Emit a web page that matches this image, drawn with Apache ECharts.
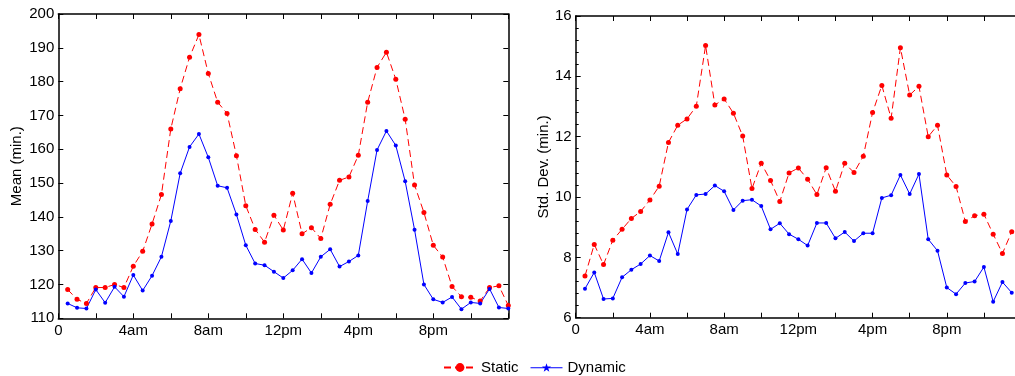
<!DOCTYPE html>
<html><head><meta charset="utf-8">
<script src="https://cdn.jsdelivr.net/npm/echarts@6/dist/echarts.min.js"></script>
<style>html,body{margin:0;padding:0;background:#fff}#c{width:1015px;height:376px}</style>
</head><body><div id="c"></div>
<script>
const hours = [0.5,1,1.5,2,2.5,3,3.5,4,4.5,5,5.5,6,6.5,7,7.5,8,8.5,9,9.5,10,10.5,11,11.5,12,
  12.5,13,13.5,14,14.5,15,15.5,16,16.5,17,17.5,18,18.5,19,19.5,20,20.5,21,21.5,22,22.5,23,23.5,24];
const xTickLabels = ['0','4am','8am','12pm','4pm','8pm'];
const meanStatic = [118.5,115.6,114.4,119.1,119.1,120.0,119.1,125.4,129.8,137.9,146.6,166.0,
  177.9,187.2,193.9,182.4,173.9,170.6,158.1,143.3,136.3,132.5,140.5,136.1,
  147.0,135.0,136.8,133.6,143.7,150.8,151.8,158.2,173.9,184.2,188.7,180.7,
  168.9,149.4,141.3,131.6,128.1,119.4,116.4,116.2,115.1,119.1,119.6,113.8];
const meanDynamic = [114.4,113.1,112.9,118.5,114.6,119.3,116.4,122.8,118.2,122.6,128.2,138.8,
  152.9,160.7,164.5,157.6,149.2,148.6,140.7,131.6,126.2,125.7,123.8,121.9,
  124.2,127.5,123.4,128.2,130.4,125.3,126.8,128.6,144.7,159.8,165.4,161.1,
  150.5,136.2,120.0,115.6,114.7,116.3,112.7,114.7,114.4,118.7,113.2,112.9];
const sdStatic = [7.38,8.43,7.76,8.57,8.93,9.29,9.52,9.90,10.36,11.81,12.38,12.59,
  13.01,15.02,13.05,13.25,12.78,12.02,10.28,11.12,10.55,9.85,10.80,10.96,
  10.59,10.08,10.97,10.19,11.12,10.81,11.35,12.80,13.70,12.61,14.95,13.38,
  13.67,12.00,12.38,10.73,10.35,9.19,9.38,9.43,8.77,8.13,8.85];
const sdDynamic = [6.96,7.50,6.62,6.64,7.34,7.59,7.78,8.06,7.88,8.83,8.11,9.59,
  10.07,10.10,10.38,10.19,9.57,9.88,9.91,9.70,8.93,9.13,8.77,8.60,
  8.39,9.14,9.14,8.63,8.84,8.54,8.80,8.80,9.97,10.06,10.73,10.10,
  10.76,8.60,8.22,7.00,6.78,7.15,7.20,7.68,6.53,7.18,6.83];

const FONT = '"Liberation Sans", Arial, Helvetica, sans-serif';
const RED = '#ff0000', BLUE = '#0000ff';
// legend icon for Dynamic: solid line with a star in the middle
const LINE_STAR_ICON = 'path://M0,5.1L32,5.1L32,6.1L0,6.1Z' +
  'M16,1.2L17.1,4.4L20.5,4.4L17.8,6.4L18.8,9.7L16,7.7L13.2,9.7L14.2,6.4L11.5,4.4L14.9,4.4Z';

function xAx(gi, pos, showLabel) {
  return {
    type: 'value', gridIndex: gi, position: pos, min: 0, max: 24, interval: 2,
    axisLine: {show: true, onZero: false, lineStyle: {color: '#000', width: 1.5}},
    axisTick: {show: true, inside: true, length: 5, lineStyle: {color: '#000', width: 1}},
    axisLabel: {show: showLabel, color: '#000', fontSize: 15, fontFamily: FONT, margin: 5,
      formatter: v => (v % 4 === 0 ? (xTickLabels[v / 4] || '') : '')},
    splitLine: {show: false}
  };
}
function yAx(gi, pos, showLabel, min, max, interval, name, nameGap, minor) {
  const a = {
    type: 'value', gridIndex: gi, position: pos, min: min, max: max, interval: interval,
    axisLine: {show: true, onZero: false, lineStyle: {color: '#000', width: 1.5}},
    axisTick: {show: true, inside: true, length: 5, lineStyle: {color: '#000', width: 1}},
    axisLabel: {show: showLabel, color: '#000', fontSize: 15, fontFamily: FONT, margin: 4},
    splitLine: {show: false}
  };
  if (minor) {
    a.minorTick = {show: true, splitNumber: 5, length: 3, lineStyle: {color: '#000', width: 1}};
    a.minorSplitLine = {show: false};
  }
  if (name) {
    a.name = name; a.nameLocation = 'middle'; a.nameGap = nameGap;
    a.nameTextStyle = {color: '#000', fontSize: 15, fontFamily: FONT};
  }
  return a;
}

const chart = echarts.init(document.getElementById('c'), null, {renderer: 'canvas'});
chart.setOption({
  animation: false,
  backgroundColor: '#fff',
  grid: [
    {left: 58.3, top: 14, width: 450, bottom: 57.7, outerBoundsMode: 'none', containLabel: false},
    {left: 575.7, top: 16, right: -6, bottom: 58.3, outerBoundsMode: 'none', containLabel: false}
  ],
  xAxis: [xAx(0, 'bottom', true), xAx(0, 'top', false), xAx(1, 'bottom', true), xAx(1, 'top', false)],
  yAxis: [
    yAx(0, 'left', true, 110, 200, 10, 'Mean (min.)', 34, false),
    yAx(0, 'right', false, 110, 200, 10, null, 0, false),
    yAx(1, 'left', true, 6, 16, 2, 'Std. Dev. (min.)', 24, true),
    yAx(1, 'right', false, 6, 16, 2, null, 0, true)
  ],
  legend: {
    data: ['Static', {name: 'Dynamic', icon: LINE_STAR_ICON}],
    left: 438, top: 355, itemWidth: 32, itemHeight: 11, itemGap: 12,
    itemStyle: {borderWidth: 0},
    textStyle: {color: '#000', fontSize: 15, fontFamily: FONT}
  },
  series: [
    {name: 'Static', type: 'line', xAxisIndex: 0, yAxisIndex: 0,
      data: meanStatic.map((v, i) => [hours[i], v]),
      symbol: 'circle', symbolSize: 5, showAllSymbol: true,
      lineStyle: {color: RED, width: 1, type: [7, 4]}, itemStyle: {color: RED, borderWidth: 0}},
    {name: 'Dynamic', type: 'line', xAxisIndex: 0, yAxisIndex: 0,
      data: meanDynamic.map((v, i) => [hours[i], v]),
      symbol: 'circle', symbolSize: 4, showAllSymbol: true,
      lineStyle: {color: BLUE, width: 1}, itemStyle: {color: BLUE, borderWidth: 0}},
    {name: 'Static', type: 'line', xAxisIndex: 2, yAxisIndex: 2,
      data: sdStatic.map((v, i) => [hours[i], v]),
      symbol: 'circle', symbolSize: 5, showAllSymbol: true,
      lineStyle: {color: RED, width: 1, type: [7, 4]}, itemStyle: {color: RED, borderWidth: 0}},
    {name: 'Dynamic', type: 'line', xAxisIndex: 2, yAxisIndex: 2,
      data: sdDynamic.map((v, i) => [hours[i], v]),
      symbol: 'circle', symbolSize: 4, showAllSymbol: true,
      lineStyle: {color: BLUE, width: 1}, itemStyle: {color: BLUE, borderWidth: 0}}
  ]
});
</script></body></html>
